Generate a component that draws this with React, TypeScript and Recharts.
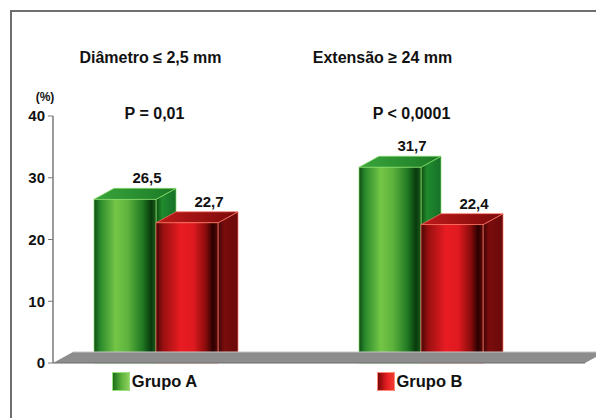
import { BarChart, Bar, XAxis, YAxis, ReferenceLine, Legend, LabelList } from 'recharts';

// categories and values
const categories = ['Diâmetro ≤ 2,5 mm', 'Extensão ≥ 24 mm'];
const pValues = ['P = 0,01', 'P < 0,0001'];
const grupoA = [26.5, 31.7];
const grupoB = [22.7, 22.4];
const seriesNames = ['Grupo A', 'Grupo B'];
const yTicks = [0, 10, 20, 30, 40];

const data = categories.map((category, i) => ({
  category,
  a: grupoA[i],
  b: grupoB[i],
}));

// oblique depth of the pseudo-3D boxes
const DX = 20;
const DY = 11;
const PAD = { left: -30, right: 32 };
const TITLE_SHIFT = [-5, -38];
const P_SHIFT = [-1, -9];
const FONT = '"Liberation Sans", Arial, sans-serif';

const SWATCH = [
  'linear-gradient(to right, #1d6f1d, #5fb53e 55%, #8fd060)',
  'linear-gradient(to right, #7a0808, #e61e22 55%, #f23a30)',
];

function Box3D(props: any) {
  const { x, y, width: w, height: h, tone } = props;
  if (!Number.isFinite(x) || !Number.isFinite(y) || h <= 0) return null;
  const stroke = tone === 'green' ? '#86dc68' : '#ff7564';
  const top = `${x},${y} ${x + DX},${y - DY} ${x + w + DX},${y - DY} ${x + w},${y}`;
  const side = `${x + w},${y} ${x + w + DX},${y - DY} ${x + w + DX},${y + h - DY} ${x + w},${y + h}`;
  return (
    <g>
      <polygon points={side} fill={`url(#${tone}Side)`} stroke={stroke} strokeWidth={0.7} />
      <polygon points={top} fill={`url(#${tone}Top)`} stroke={stroke} strokeWidth={0.7} />
      <rect x={x} y={y} width={w} height={h} fill={`url(#${tone}Front)`} stroke={stroke} strokeWidth={0.7} />
    </g>
  );
}

function Floor(props: any) {
  const { x1, x2, y1 } = props;
  if (!Number.isFinite(x1) || !Number.isFinite(x2)) return null;
  const l = Math.min(x1, x2);
  const r = Math.max(x1, x2);
  const pts = `${l},${y1} ${l + DX},${y1 - DY} ${r + DX},${y1 - DY} ${r},${y1}`;
  return (
    <g>
      <polygon points={pts} fill="#8d8d8d" />
      <line x1={l + DX} y1={y1 - DY} x2={r + DX} y2={y1 - DY} stroke="#c4c4c4" strokeWidth={1} />
      <line x1={l} y1={y1} x2={r} y2={y1} stroke="#6a6a6a" strokeWidth={1} />
    </g>
  );
}

function CategoryHeading(props: any) {
  const { x, y, payload } = props;
  const i = payload?.index ?? 0;
  return (
    <g fontFamily={FONT} fontWeight={700} fontSize={16} fill="#111">
      <text x={x + TITLE_SHIFT[i]} y={y - 53} textAnchor="middle">
        {payload.value}
      </text>
      <text x={x + P_SHIFT[i]} y={y + 3} textAnchor="middle">
        {pValues[i]}
      </text>
    </g>
  );
}

function PercentLabel(props: any) {
  const vb = props.viewBox || {};
  return (
    <text x={vb.x + vb.width - 8} y={vb.y - 15} textAnchor="middle" fontFamily={FONT} fontWeight={700} fontSize={12} fill="#111">
      (%)
    </text>
  );
}

const renderValue = (p: any) => {
  const { x, y, width, value } = p;
  return (
    <text x={x + width / 2 + DX + 2} y={y - DY - 5} textAnchor="middle" fontFamily={FONT} fontWeight={700} fontSize={15} fill="#111">
      {String(value).replace('.', ',')}
    </text>
  );
};

const renderLegend = () => (
  <div style={{ display: 'flex', paddingLeft: 22, fontFamily: FONT }}>
    {seriesNames.map((name, i) => (
      <div key={name} style={{ width: 265, display: 'flex', justifyContent: 'center', alignItems: 'center' }}>
        <span style={{ width: 16, height: 17, background: SWATCH[i], marginRight: 2, border: '1px solid ' + (i === 0 ? '#9be07c' : '#ff8a7a') }} />
        <span style={{ fontSize: 16.5, fontWeight: 700, color: '#111' }}>{name}</span>
      </div>
    ))}
  </div>
);

export default function App() {
  return (
    <div style={{ position: 'relative', width: 596, height: 418, overflow: 'hidden', background: '#fff', fontFamily: FONT }}>
      <style>{'body{margin:0;overflow:hidden}'}</style>
      <BarChart
        width={596}
        height={418}
        data={data}
        margin={{ top: 115, right: 11, bottom: 55, left: 0 }}
        barGap={0}
        barSize={62}
      >
        <defs>
          <linearGradient id="greenFront" x1="0" y1="0" x2="1" y2="0">
            <stop offset="0" stopColor="#0d4d14" />
            <stop offset="0.1" stopColor="#2b8a2c" />
            <stop offset="0.35" stopColor="#74c647" />
            <stop offset="0.55" stopColor="#5cb23c" />
            <stop offset="0.78" stopColor="#217a23" />
            <stop offset="0.92" stopColor="#083a0c" />
            <stop offset="1" stopColor="#1a5a1c" />
          </linearGradient>
          <linearGradient id="greenSide" x1="0" y1="0" x2="1" y2="0">
            <stop offset="0" stopColor="#0f4a12" />
            <stop offset="0.3" stopColor="#1f8a2c" />
            <stop offset="1" stopColor="#16702a" />
          </linearGradient>
          <linearGradient id="greenTop" x1="0" y1="0" x2="1" y2="0">
            <stop offset="0" stopColor="#3aa53c" />
            <stop offset="1" stopColor="#1a7a25" />
          </linearGradient>
          <linearGradient id="redFront" x1="0" y1="0" x2="1" y2="0">
            <stop offset="0" stopColor="#4a0606" />
            <stop offset="0.12" stopColor="#9a1010" />
            <stop offset="0.4" stopColor="#e81c22" />
            <stop offset="0.6" stopColor="#e01a20" />
            <stop offset="0.8" stopColor="#8a0c0c" />
            <stop offset="0.92" stopColor="#2a0000" />
            <stop offset="1" stopColor="#5a0808" />
          </linearGradient>
          <linearGradient id="redSide" x1="0" y1="0" x2="1" y2="0">
            <stop offset="0" stopColor="#3a0404" />
            <stop offset="0.3" stopColor="#7a0c0c" />
            <stop offset="1" stopColor="#6a0a0a" />
          </linearGradient>
          <linearGradient id="redTop" x1="0" y1="0" x2="1" y2="0">
            <stop offset="0" stopColor="#c01a1a" />
            <stop offset="1" stopColor="#7a0a0a" />
          </linearGradient>
        </defs>
        <XAxis dataKey="category" hide padding={PAD} />
        <XAxis
          xAxisId="top"
          orientation="top"
          dataKey="category"
          height={1}
          padding={PAD}
          axisLine={false}
          tickLine={false}
          tickSize={0}
          tickMargin={0}
          interval={0}
          tick={<CategoryHeading />}
        />
        <YAxis
          domain={[0, 40]}
          ticks={yTicks}
          interval={0}
          width={53}
          tickSize={5}
          tickMargin={3}
          axisLine={{ stroke: '#7a7a7a', strokeWidth: 1.5 }}
          tickLine={{ stroke: '#7a7a7a' }}
          tick={{ fill: '#111', fontSize: 15, fontWeight: 700, fontFamily: FONT }}
          label={<PercentLabel />}
        />
        <ReferenceLine y={0} shape={<Floor />} />
        <Bar dataKey="a" name={seriesNames[0]} isAnimationActive={false} shape={(p: any) => <Box3D {...p} tone="green" />}>
          <LabelList dataKey="a" content={renderValue} />
        </Bar>
        <Bar dataKey="b" name={seriesNames[1]} isAnimationActive={false} shape={(p: any) => <Box3D {...p} tone="red" />}>
          <LabelList dataKey="b" content={renderValue} />
        </Bar>
        <Legend
          layout="horizontal"
          verticalAlign="middle"
          align="center"
          content={renderLegend}
          wrapperStyle={{ top: 372, left: 0, width: 596 }}
        />
      </BarChart>
      {/* outer frame of the figure, its right and bottom edges fall outside the crop */}
      <svg width={596} height={418} style={{ position: 'absolute', left: 0, top: 0, pointerEvents: 'none' }}>
        <polyline points="11,418 11,11 596,11" fill="none" stroke="#6f6f6f" strokeWidth={2} />
      </svg>
    </div>
  );
}
